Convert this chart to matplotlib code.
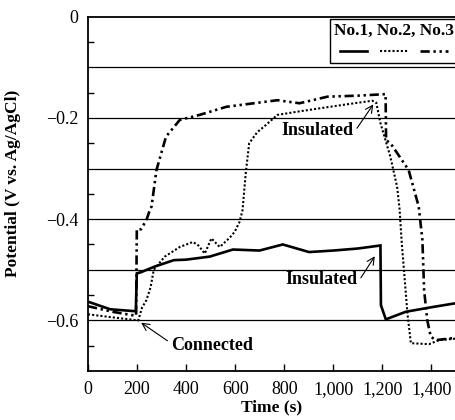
import matplotlib
matplotlib.use("Agg")
import matplotlib.pyplot as plt
from matplotlib.ticker import FixedLocator, FuncFormatter

# ---- data ----
t1 = [0, 90, 195, 199, 215, 270, 350, 400, 496, 591, 699, 794, 901, 1000, 1100, 1192, 1194, 1214, 1295, 1400, 1500]
v1 = [-0.563, -0.578, -0.582, -0.507, -0.505, -0.494, -0.481, -0.480, -0.474, -0.460, -0.462, -0.450, -0.465, -0.462, -0.458, -0.452, -0.570, -0.598, -0.583, -0.574, -0.566]

t2 = [0, 100, 205, 220, 238, 255, 268, 313, 374, 428, 450, 476, 503, 537, 577, 598, 618, 630, 643, 657, 690, 718, 772, 862, 1000, 1100, 1159, 1175, 1192, 1232, 1260, 1270, 1278, 1302, 1316, 1390, 1431, 1500]
v2 = [-0.588, -0.594, -0.600, -0.575, -0.560, -0.535, -0.500, -0.474, -0.455, -0.445, -0.452, -0.468, -0.438, -0.455, -0.437, -0.425, -0.405, -0.382, -0.309, -0.250, -0.228, -0.217, -0.194, -0.187, -0.177, -0.170, -0.166, -0.170, -0.210, -0.276, -0.336, -0.380, -0.441, -0.586, -0.645, -0.647, -0.639, -0.636]

t3 = [0, 100, 196, 199, 216, 238, 252, 259, 279, 318, 374, 455, 564, 772, 862, 976, 1100, 1213, 1215, 1233, 1307, 1348, 1363, 1370, 1383, 1397, 1417, 1472, 1500]
v3 = [-0.572, -0.583, -0.591, -0.420, -0.420, -0.402, -0.382, -0.375, -0.303, -0.237, -0.204, -0.194, -0.178, -0.165, -0.171, -0.158, -0.156, -0.153, -0.244, -0.250, -0.303, -0.375, -0.441, -0.540, -0.600, -0.632, -0.639, -0.636, -0.634]

series_names = ["No.1", "No.2", "No.3"]
x_ticks = [0, 200, 400, 600, 800, 1000, 1200, 1400]
y_ticks = [0, -0.2, -0.4, -0.6]
y_grid = [-0.1, -0.2, -0.3, -0.4, -0.5, -0.6]
y_minor = [-0.05, -0.15, -0.25, -0.35, -0.45, -0.55, -0.65]

plt.rcParams['font.family'] = ['Liberation Serif', 'DejaVu Serif']

fig = plt.figure(figsize=(4.56, 4.20), dpi=100)
ax = fig.add_axes([88/456, 1 - 371/420, 1 - 88/456, (371 - 16.7)/420])

for g in y_grid:
    ax.axhline(g, color='black', lw=0.9, zorder=1)

l1, = ax.plot(t1, v1, color='black', lw=1.9, solid_joinstyle='miter', zorder=3)
l2, = ax.plot(t2, v2, color='black', lw=1.5, linestyle=(0, (1.0, 1.0)), zorder=3)
l3, = ax.plot(t3, v3, color='black', lw=1.9, linestyle=(0, (3.5, 1.4, 0.9, 1.4, 0.9, 1.4)), zorder=3)

ax.set_xlim(0, 1500)
ax.set_ylim(-0.7, 0)

ax.xaxis.set_major_locator(FixedLocator(x_ticks))
ax.xaxis.set_major_formatter(FuncFormatter(lambda v, p: f"{int(v):,}"))
ax.yaxis.set_major_locator(FixedLocator(y_ticks))
ax.yaxis.set_major_formatter(FuncFormatter(lambda v, p: "0" if abs(v) < 1e-9 else f"\u2212{abs(v):.1f}"))
ax.yaxis.set_minor_locator(FixedLocator(y_minor))

ax.tick_params(axis='x', direction='in', length=5, width=1, labelsize=13, pad=7)
ax.tick_params(axis='y', which='major', direction='in', length=0, labelsize=13, pad=7)
ax.tick_params(axis='y', which='minor', direction='in', length=4, width=1)

for s in ['left', 'bottom', 'top']:
    ax.spines[s].set_linewidth(1.3)
ax.spines['right'].set_visible(False)

ax.set_xlabel("Time (s)", fontsize=12.5, fontweight='bold', labelpad=1)
ax.set_ylabel("Potential (V vs. Ag/AgCl)", fontsize=12.5, fontweight='bold')
ax.yaxis.set_label_coords(-0.182, 0.53)

arrow = dict(arrowstyle='->', color='black', lw=0.8, shrinkA=1, shrinkB=1, relpos=(1.0, 0.3))
ax.annotate("Insulated", xy=(1166, -0.171), xytext=(935, -0.224), ha='center', va='center',
            fontsize=13, fontweight='bold', arrowprops=arrow, zorder=4)
ax.annotate("Insulated", xy=(1172, -0.471), xytext=(951, -0.520), ha='center', va='center',
            fontsize=13, fontweight='bold', arrowprops=arrow, zorder=4)
arrow_c = dict(arrowstyle='->', color='black', lw=0.8, shrinkA=1, shrinkB=1, relpos=(0.0, 0.6))
ax.annotate("Connected", xy=(212, -0.603), xytext=(340, -0.649), ha='left', va='center',
            fontsize=13, fontweight='bold', arrowprops=arrow_c, zorder=4)

leg = ax.legend(handles=[l1, l2, l3], labels=["", "", ""], ncol=3,
                title=", ".join(series_names), title_fontproperties={'weight': 'bold', 'size': 12.5},
                loc='upper right', bbox_to_anchor=(458/456, 1 - 19/420), bbox_transform=fig.transFigure,
                frameon=True, fancybox=False, edgecolor='black', framealpha=1,
                handlelength=2.0, handletextpad=0.0, columnspacing=0.9,
                borderpad=0.3, borderaxespad=0, fontsize=10)
leg.get_frame().set_linewidth(1.0)
leg.set_zorder(5)

fig.savefig("out.png", dpi=100)
